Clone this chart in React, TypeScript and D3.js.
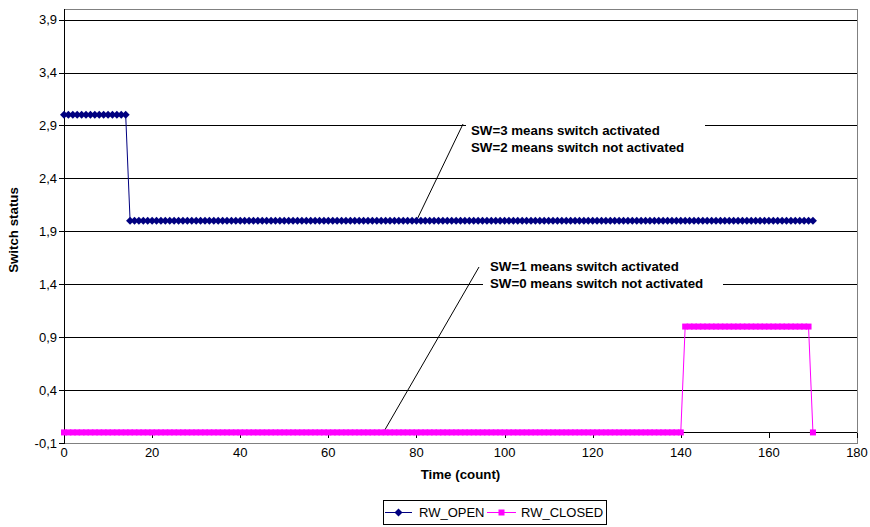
import React from 'react';
import * as d3 from 'd3';

// Switch status runs: [first count, last count, status]
const rwOpenRuns: [number, number, number][] = [
  [0, 14, 3],
  [15, 170, 2],
];
const rwClosedRuns: [number, number, number][] = [
  [0, 140, 0],
  [141, 169, 1],
  [170, 170, 0],
];

const seriesNames = ['RW_OPEN', 'RW_CLOSED'];
const seriesColors = ['#000080', '#FF00FF'];

const yTicks = [-0.1, 0.4, 0.9, 1.4, 1.9, 2.4, 2.9, 3.4, 3.9];
const yGrid = [0.4, 0.9, 1.4, 1.9, 2.4, 2.9, 3.4, 3.9];
const xTicks = [0, 20, 40, 60, 80, 100, 120, 140, 160, 180];

const noteLines = [
  ['SW=3 means switch activated', 'SW=2 means switch not activated'],
  ['SW=1 means switch activated', 'SW=0 means switch not activated'],
];
// data point each callout leader starts from: [count, status]
const noteAnchors: [number, number][] = [
  [80, 2],
  [72.5, 0],
];

const xAxisTitle = 'Time (count)';
const yAxisTitle = 'Switch status';

const FONT = '"Liberation Sans", Arial, sans-serif';

function expand(runs: [number, number, number][]) {
  const pts: [number, number][] = [];
  runs.forEach(([a, b, v]) => {
    for (let t = a; t <= b; t++) pts.push([t, v]);
  });
  return pts;
}

const fmt = (v: number) => String(v).replace('.', ',');

export default function App() {
  const W = 870;
  const H = 527;
  const left = 64;
  const right = 857;
  const top = 9;
  const bottom = 443;

  const x = d3.scaleLinear().domain([0, 180]).range([left, right]);
  const y = d3.scaleLinear().domain([-0.1, 4.0]).range([bottom, top]);
  const px = (v: number) => Math.round(v) + 0.5;

  const openPts = expand(rwOpenRuns);
  const closedPts = expand(rwClosedRuns);
  const line = d3
    .line<[number, number]>()
    .x((d) => x(d[0]))
    .y((d) => y(d[1]));

  const diamond = 'M0,-4L4,0L0,4L-4,0Z';

  // callout boxes (white background that breaks the gridlines)
  const boxes = [
    { x: 466, y: 117, w: 239, h: 40, tx: 471, b1: 135, b2: 152, end: [463, 124] },
    { x: 483, y: 257, w: 240, h: 40, tx: 490, b1: 271, b2: 288, end: [479, 267] },
  ];

  return (
    <svg
      width={W}
      height={H}
      style={{ position: 'absolute', left: 0, top: 0, background: '#fff' }}
      fontFamily={FONT}
    >
      <rect x={0} y={0} width={W} height={H} fill="#fff" />
      {/* plot area border */}
      <rect
        x={left + 0.5}
        y={top + 0.5}
        width={right - left}
        height={bottom - top}
        fill="#fff"
        stroke="#808080"
        strokeWidth={1}
      />
      {/* gridlines */}
      {yGrid.map((v) => (
        <line
          key={'g' + v}
          x1={left}
          x2={right}
          y1={px(y(v))}
          y2={px(y(v))}
          stroke="#000"
          strokeWidth={1}
          shapeRendering="crispEdges"
        />
      ))}
      {/* y axis */}
      <line x1={left + 0.5} x2={left + 0.5} y1={top} y2={bottom + 1} stroke="#000" shapeRendering="crispEdges" />
      {yTicks.map((v) => (
        <g key={'yt' + v}>
          <line
            x1={left - 5}
            x2={left}
            y1={px(y(v))}
            y2={px(y(v))}
            stroke="#000"
            shapeRendering="crispEdges"
          />
          <text x={left - 7} y={y(v)} dy="0.35em" textAnchor="end" fontSize={13} fill="#000">
            {fmt(v)}
          </text>
        </g>
      ))}
      {/* x axis crossing at zero */}
      <line x1={left} x2={right} y1={px(y(0))} y2={px(y(0))} stroke="#000" shapeRendering="crispEdges" />
      {xTicks.map((v) => (
        <g key={'xt' + v}>
          <line
            x1={px(x(v))}
            x2={px(x(v))}
            y1={px(y(0))}
            y2={px(y(0)) + 5}
            stroke="#000"
            shapeRendering="crispEdges"
          />
          <text x={x(v)} y={457} textAnchor="middle" fontSize={13} fill="#000">
            {v}
          </text>
        </g>
      ))}

      {/* callouts */}
      {boxes.map((b, i) => (
        <g key={'note' + i}>
          <rect x={b.x} y={b.y} width={b.w} height={b.h} fill="#fff" />
          <line
            x1={x(noteAnchors[i][0])}
            y1={y(noteAnchors[i][1])}
            x2={b.end[0]}
            y2={b.end[1]}
            stroke="#000"
            strokeWidth={1}
          />
          <text x={b.tx} y={b.b1} fontSize={13.3} fontWeight="bold" fill="#000">
            {noteLines[i][0]}
          </text>
          <text x={b.tx} y={b.b2} fontSize={13.3} fontWeight="bold" fill="#000">
            {noteLines[i][1]}
          </text>
        </g>
      ))}

      {/* RW_OPEN */}
      <path d={line(openPts) || ''} fill="none" stroke={seriesColors[0]} strokeWidth={1} />
      {openPts.map((d, i) => (
        <path
          key={'o' + i}
          d={diamond}
          transform={`translate(${x(d[0])},${y(d[1])})`}
          fill={seriesColors[0]}
        />
      ))}

      {/* RW_CLOSED */}
      <path d={line(closedPts) || ''} fill="none" stroke={seriesColors[1]} strokeWidth={1} />
      {closedPts.map((d, i) => (
        <rect
          key={'c' + i}
          x={x(d[0]) - 3}
          y={y(d[1]) - 3}
          width={6}
          height={6}
          fill={seriesColors[1]}
        />
      ))}

      {/* axis titles */}
      <text x={(left + right) / 2} y={479} textAnchor="middle" fontSize={13.3} fontWeight="bold" fill="#000">
        {xAxisTitle}
      </text>
      <text
        transform={`translate(18,${(top + bottom) / 2 + 4}) rotate(-90)`}
        textAnchor="middle"
        fontSize={13.3}
        fontWeight="bold"
        fill="#000"
      >
        {yAxisTitle}
      </text>

      {/* legend */}
      <g>
        <rect x={383.5} y={500.5} width={223} height={24} fill="#fff" stroke="#000" strokeWidth={1} />
        <line x1={385} x2={412} y1={512.5} y2={512.5} stroke={seriesColors[0]} />
        <path d={diamond} transform="translate(398.5,512.5)" fill={seriesColors[0]} />
        <text x={419} y={517} fontSize={13} fill="#000">
          {seriesNames[0]}
        </text>
        <line x1={487} x2={516} y1={512.5} y2={512.5} stroke={seriesColors[1]} />
        <rect x={498.5} y={509.5} width={6} height={6} fill={seriesColors[1]} />
        <text x={521} y={517} fontSize={13} fill="#000">
          {seriesNames[1]}
        </text>
      </g>
    </svg>
  );
}
